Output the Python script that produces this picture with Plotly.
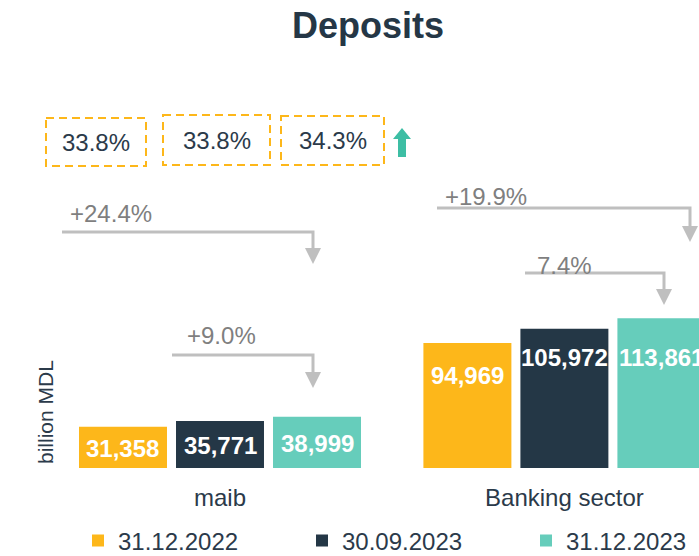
import plotly.graph_objects as go

# ---------------- data ----------------
categories = ["maib", "Banking sector"]
series_names = ["31.12.2022", "30.09.2023", "31.12.2023"]
values_2022_12 = [31358, 94969]
values_2023_09 = [35771, 105972]
values_2023_12 = [38999, 113861]
share_labels = ["33.8%", "33.8%", "34.3%"]
growth_labels = ["+24.4%", "+9.0%", "+19.9%", "7.4%"]
y_title = "billion MDL"
chart_title = "Deposits"

# ---------------- styling / layout ----------------
colors = ["#FDB71A", "#243746", "#66CDBB"]
DARK = "#2B3A4A"
GRAY_LINE = "#BFBFBF"
GRAY_TEXT = "#7F7F7F"
FONT = "Liberation Sans, Arial, sans-serif"

OFF = 0                      # body margin removed via post_script
W, H = 699, 556              # figure size
ML, MT = 30, 40              # figure-pixel margins
BASE = 468 - OFF             # baseline (figure px)
MB = H - BASE
MR = 0
plot_w = W - ML - MR
plot_h = BASE - MT
PX_PER_CAT = 344.4
CAT0 = 220 - OFF
XMIN = -(CAT0 - ML) / PX_PER_CAT
XMAX = (W - MR - CAT0) / PX_PER_CAT
PX_PER_UNIT = 0.001315
YMAX = plot_h / PX_PER_UNIT


def X(sx):
    """screen px -> x data"""
    return (sx - OFF - CAT0) / PX_PER_CAT


def Y(sy):
    """screen px -> y data"""
    return (BASE - (sy - OFF)) / PX_PER_UNIT


all_series = [values_2022_12, values_2023_09, values_2023_12]
x_idx = list(range(len(categories)))

fig = go.Figure()
legend_widths = [179, 179, 130]
for name, vals, col, lw in zip(series_names, all_series, colors, legend_widths):
    fig.add_trace(go.Bar(
        x=x_idx, y=vals, name=name, marker=dict(color=col, line=dict(width=0)),
        hoverinfo="skip", cliponaxis=True, legendwidth=lw,
    ))

bargap = 0.155
bargroupgap = 0.093
slot = (1 - bargap) / 3
offsets = [-slot, 0, slot]

annotations = []
shapes = []

# bar value labels (white bold)
label_shift = [[0, -32], [0, -29], [0, -39]]  # pixel shifts; 0 => centered in bar
for s, vals in enumerate(all_series):
    for c, v in enumerate(vals):
        sh = label_shift[s][c]
        if sh == 0:
            yv, ys = v / 2, -1
        else:
            yv, ys = v, sh
        annotations.append(dict(
            x=c + offsets[s], y=yv, yshift=ys, xref="x", yref="y",
            text=f"<b>{v:,}</b>", showarrow=False, xanchor="center", yanchor="middle",
            font=dict(family=FONT, size=24, color="white"),
        ))

# dashed share boxes
boxes = [(46, 118, 146, 166), (163, 115, 270, 165), (281, 116, 384, 165)]
for (x0, y0, x1, y1), lab in zip(boxes, share_labels):
    shapes.append(dict(type="rect", xref="x", yref="y", x0=X(x0), x1=X(x1), y0=Y(y0), y1=Y(y1),
                       line=dict(color="#FDB71A", width=2, dash="8px,5px"), fillcolor="rgba(0,0,0,0)"))
    annotations.append(dict(x=X((x0 + x1) / 2), y=Y((y0 + y1) / 2), xref="x", yref="y",
                            text=lab, showarrow=False, xanchor="center", yanchor="middle",
                            font=dict(family=FONT, size=24, color=DARK)))

# teal up arrow
ax_c, shaft, head, top, neck, bot = 402, 4, 9, 128, 139, 157
path = (f"M {X(ax_c - shaft)},{Y(bot)} L {X(ax_c - shaft)},{Y(neck)} L {X(ax_c - head)},{Y(neck)} "
        f"L {X(ax_c)},{Y(top)} L {X(ax_c + head)},{Y(neck)} L {X(ax_c + shaft)},{Y(neck)} "
        f"L {X(ax_c + shaft)},{Y(bot)} Z")
shapes.append(dict(type="path", xref="x", yref="y", path=path, fillcolor="#3DBEA4",
                   line=dict(color="#3DBEA4", width=0)))

# gray growth arrows: (label, text_left, text_y, line_x0, line_y, line_x1, tip_y)
arrows = [
    (growth_labels[0], 68, 213, 62, 232, 313, 264),
    (growth_labels[1], 185, 335, 172, 355, 313, 388),
    (growth_labels[2], 443, 196, 437, 208, 690, 242),
    (growth_labels[3], 535, 265, 525, 273, 664, 305),
]
for lab, tx, ty, x0, ly, x1, tip in arrows:
    shapes.append(dict(type="path", xref="x", yref="y",
                       path=f"M {X(x0)},{Y(ly)} L {X(x1)},{Y(ly)} L {X(x1)},{Y(tip - 14)}",
                       line=dict(color=GRAY_LINE, width=3), fillcolor="rgba(0,0,0,0)"))
    shapes.append(dict(type="path", xref="x", yref="y",
                       path=f"M {X(x1 - 8)},{Y(tip - 16)} L {X(x1 + 8)},{Y(tip - 16)} L {X(x1)},{Y(tip)} Z",
                       fillcolor=GRAY_LINE, line=dict(color=GRAY_LINE, width=0)))
    annotations.append(dict(x=X(tx), y=Y(ty), xref="x", yref="y", text=lab, showarrow=False,
                            xanchor="left", yanchor="middle",
                            font=dict(family=FONT, size=24, color=GRAY_TEXT)))

# y-axis title
annotations.append(dict(x=(45 - OFF - ML) / plot_w, y=Y(412), xref="paper", yref="y",
                        text=y_title, textangle=-90,
                        showarrow=False, xanchor="center", yanchor="middle",
                        font=dict(family=FONT, size=21, color=DARK)))

fig.update_layout(
    width=W, height=H,
    margin=dict(l=ML, r=MR, t=MT, b=MB, pad=0, autoexpand=False),
    paper_bgcolor="white", plot_bgcolor="white",
    barmode="group", bargap=bargap, bargroupgap=bargroupgap,
    title=dict(text=f"<b>{chart_title}</b>", x=(368 - OFF) / W, xanchor="center", xref="container",
               y=1 - (25 - OFF) / H, yanchor="middle", yref="container",
               font=dict(family=FONT, size=36, color="#253746")),
    xaxis=dict(range=[XMIN, XMAX], tickmode="array", tickvals=x_idx, ticktext=categories,
               showgrid=False, zeroline=False, showline=False, ticks="", ticklabelstandoff=13,
               tickfont=dict(family=FONT, size=24, color=DARK), fixedrange=True),
    yaxis=dict(range=[0, YMAX], showgrid=False, zeroline=False, showline=False,
               showticklabels=False, ticks="", fixedrange=True),
    showlegend=True,
    legend=dict(orientation="h", x=(78 - OFF - ML) / plot_w, xanchor="left",
                y=(BASE - (541 - OFF)) / plot_h, yanchor="middle",
                font=dict(family=FONT, size=24, color=DARK),
                itemclick=False, itemdoubleclick=False),
    annotations=annotations, shapes=shapes,
)

fig.write_html(
    "out.html",
    config={"displayModeBar": False},
    post_script="document.body.style.margin='0';document.body.style.overflow='hidden';",
)
